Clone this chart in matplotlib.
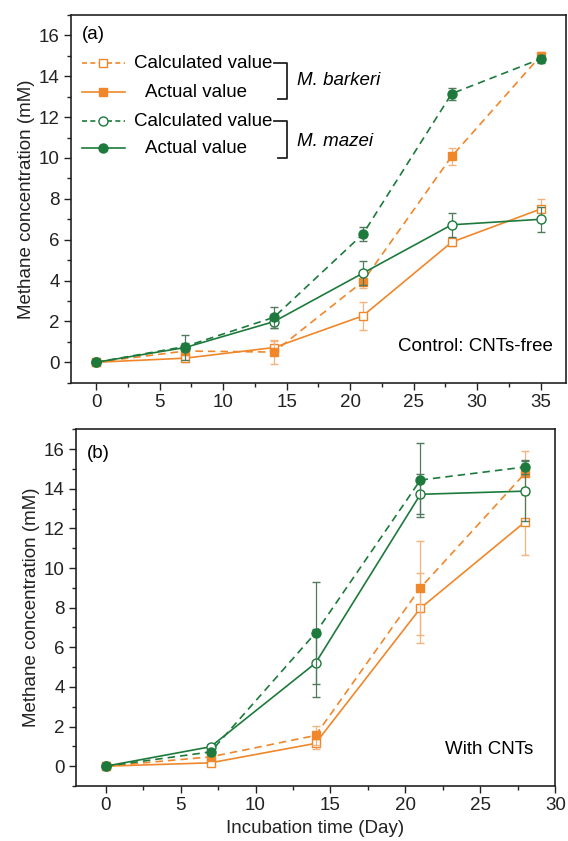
import matplotlib
matplotlib.use("Agg")
import matplotlib.pyplot as plt
from matplotlib.lines import Line2D
from matplotlib.ticker import MultipleLocator

plt.rcParams['font.family'] = ['Liberation Sans', 'DejaVu Sans']

ORANGE = '#F0872A'
GREEN = '#1D7A3C'
ORANGE_ERR = '#F4B27C'
GREEN_ERR = '#4F7A5C'
FS = 13.5

# ---- Panel (a): Control, CNTs-free ----
days_a = [0, 7, 14, 21, 28, 35]
a_bark_dash = [0.0, 0.55, 0.5, 3.95, 10.08, 15.0]
a_bark_dash_err = [0.05, 0.2, 0.6, 0.3, 0.4, 0.2]
a_bark_solid = [0.0, 0.2, 0.72, 2.27, 5.88, 7.5]
a_bark_solid_err = [0.05, 0.2, 0.3, 0.7, 0.2, 0.5]
a_maz_dash = [0.0, 0.77, 2.2, 6.27, 13.15, 14.85]
a_maz_dash_err = [0.05, 0.15, 0.5, 0.35, 0.3, 0.2]
a_maz_solid = [0.0, 0.72, 1.99, 4.36, 6.73, 7.0]
a_maz_solid_err = [0.05, 0.6, 0.3, 0.6, 0.6, 0.6]

# ---- Panel (b): With CNTs ----
days_b = [0, 7, 14, 21, 28]
b_bark_dash = [0.0, 0.47, 1.55, 9.0, 14.8]
b_bark_dash_err = [0.05, 0.15, 0.5, 2.36, 1.1]
b_bark_solid = [0.0, 0.17, 1.15, 7.97, 12.34]
b_bark_solid_err = [0.05, 0.1, 0.3, 1.77, 1.68]
b_maz_dash = [0.0, 0.72, 6.72, 14.44, 15.1]
b_maz_dash_err = [0.05, 0.1, 2.56, 1.85, 0.35]
b_maz_solid = [0.0, 0.98, 5.2, 13.72, 13.88]
b_maz_solid_err = [0.05, 0.15, 1.73, 1.0, 1.5]

fig = plt.figure(figsize=(5.68, 8.41), dpi=100)
W, H = 568, 841

def add_axes_px(x0, x1, y0, y1):
    return fig.add_axes([x0 / W, 1 - y1 / H, (x1 - x0) / W, (y1 - y0) / H])

axA = add_axes_px(70.7, 566, 15, 382.7)
axB = add_axes_px(75.7, 555.3, 429.3, 786)

def plot_series(ax, x, y, err, color, ecolor, ls, marker, filled, z):
    ax.errorbar(x, y, yerr=err, color=color, ecolor=ecolor, elinewidth=0.9,
                capsize=3, capthick=0.9, ls=ls, lw=1.2, marker=marker,
                markersize=6.5 if marker == 'o' else 6,
                markerfacecolor=color if filled else 'white',
                markeredgecolor=color, markeredgewidth=1.0, zorder=z,
                dashes=(4.5, 3) if ls == '--' else (None, None))

def plot_panel(ax, x, bd, bde, bs, bse, md, mde, ms, mse):
    plot_series(ax, x, bs, bse, ORANGE, ORANGE_ERR, '-', 's', False, 3)
    plot_series(ax, x, bd, bde, ORANGE, ORANGE_ERR, '--', 's', True, 4)
    plot_series(ax, x, ms, mse, GREEN, GREEN_ERR, '-', 'o', False, 5)
    plot_series(ax, x, md, mde, GREEN, GREEN_ERR, '--', 'o', True, 6)

plot_panel(axA, days_a, a_bark_dash, a_bark_dash_err, a_bark_solid, a_bark_solid_err,
           a_maz_dash, a_maz_dash_err, a_maz_solid, a_maz_solid_err)
plot_panel(axB, days_b, b_bark_dash, b_bark_dash_err, b_bark_solid, b_bark_solid_err,
           b_maz_dash, b_maz_dash_err, b_maz_solid, b_maz_solid_err)

for ax, xmax in ((axA, 37), (axB, 30)):
    ax.set_ylim(-1, 17)
    ax.set_xlim(-2, xmax)
    ax.xaxis.set_major_locator(MultipleLocator(5))
    ax.xaxis.set_minor_locator(MultipleLocator(2.5))
    ax.yaxis.set_major_locator(MultipleLocator(2))
    ax.yaxis.set_minor_locator(MultipleLocator(1))
    ax.tick_params(which='both', direction='out', labelsize=FS, width=1.0, colors='#222222')
    ax.tick_params(which='major', length=5, pad=3)
    ax.tick_params(which='minor', length=3)
    for s in ax.spines.values():
        s.set_linewidth(1.2)
        s.set_color('#222222')
    ax.set_ylabel('Methane concentration (mM)', fontsize=FS, color='#222222', labelpad=3)

axB.set_xlabel('Incubation time (Day)', fontsize=FS, color='#222222', labelpad=4)

axA.text(0.023, 0.9475, '(a)', transform=axA.transAxes, fontsize=FS, va='center', ha='left')
axB.text(0.024, 0.933, '(b)', transform=axB.transAxes, fontsize=FS, va='center', ha='left')
axA.text(0.973, 0.098, 'Control: CNTs-free', transform=axA.transAxes, fontsize=FS,
         va='center', ha='right')
axB.text(0.954, 0.101, 'With CNTs', transform=axB.transAxes, fontsize=FS,
         va='center', ha='right')

# ---- manual legend in panel (a) ----
rows = [(0.869, ORANGE, '--', 's', False, 'Calculated value', 0.267),
        (0.790, ORANGE, '-', 's', True, 'Actual value', 0.252),
        (0.711, GREEN, '--', 'o', False, 'Calculated value', 0.267),
        (0.638, GREEN, '-', 'o', True, 'Actual value', 0.252)]
for fy, c, ls, mk, filled, label, tx in rows:
    ln = Line2D([0.0228, 0.1096], [fy, fy], transform=axA.transAxes, color=c, lw=1.2,
                ls=ls, dashes=(3, 2) if ls == '--' else (None, None))
    axA.add_line(ln)
    mkr = Line2D([0.066], [fy], transform=axA.transAxes, marker=mk, ls='none',
                 markersize=6.5 if mk == 'o' else 6, markerfacecolor=c if filled else 'white',
                 markeredgecolor=c, markeredgewidth=1.0)
    axA.add_line(mkr)
    axA.text(tx, fy, label, transform=axA.transAxes, fontsize=FS, ha='center', va='center')

for top, bot, name, ny in ((0.869, 0.771, 'M. barkeri', 0.823),
                           (0.711, 0.611, 'M. mazei', 0.655)):
    br = Line2D([0.411, 0.437, 0.437, 0.419], [top, top, bot, bot],
                transform=axA.transAxes, color='#222222', lw=1.3)
    axA.add_line(br)
    axA.text(0.457, ny, name, transform=axA.transAxes, fontsize=FS, style='italic',
             ha='left', va='center')

fig.savefig('out.png', dpi=100)
